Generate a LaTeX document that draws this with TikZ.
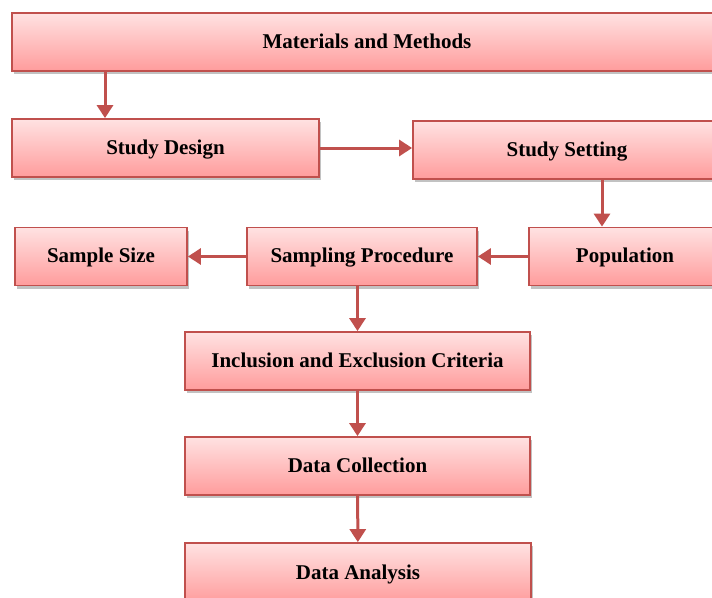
\documentclass[tikz,border=0pt]{standalone}
\usepackage{fontspec}
\setmainfont{Liberation Serif}
\usetikzlibrary{arrows.meta,shadows}
\definecolor{boxline}{HTML}{C0504D}
\definecolor{boxtop}{HTML}{FFE2E2}
\definecolor{boxbot}{HTML}{FF9C9C}

\begin{document}
\begin{tikzpicture}[x=1pt,y=-1pt,
  stage/.style={draw=boxline, line width=1.8pt, top color=boxtop, bottom color=boxbot,
    minimum height=58pt, inner sep=0pt, text height=12pt, text depth=0pt,
    font=\bfseries\fontsize{21}{24}\selectfont,
    drop shadow={shadow xshift=2pt, shadow yshift=-3pt, opacity=0.4, fill=black!60}},
  flow/.style={draw=boxline, line width=3pt, -{Triangle[length=13pt,width=16pt]}}]
\clip (0,0) rectangle (712,597);
\node[stage, minimum width=710pt] (mm) at (367,42) {Materials and Methods};
\node[stage, minimum width=307pt] (sd) at (165.5,148) {Study Design};
\node[stage, minimum width=308pt] (ss) at (567,150) {Study Setting};
\node[stage, minimum width=192pt] (pop) at (625,256.5) {Population};
\node[stage, minimum width=230pt] (sp) at (362,256.5) {Sampling Procedure};
\node[stage, minimum width=172pt] (sz) at (101,256.5) {Sample Size};
\node[stage, minimum width=345pt] (ie) at (357.5,361) {Inclusion and Exclusion Criteria};
\node[stage, minimum width=345pt] (dc) at (357.5,466) {Data Collection};
\node[stage, minimum width=346pt, minimum height=60pt] (da) at (358,573) {Data Analysis};
\draw [flow] (mm.south -| 105,0) -- (sd.north -| 105,0);
\draw [flow] (sd.east) -- (sd.east -| ss.west);
\draw [flow] (ss.south -| 602,0) -- (pop.north -| 602,0);
\draw [flow] (pop) -- (sp);
\draw [flow] (sp) -- (sz);
\draw [flow] (sp.south -| ie.north) -- (ie.north);
\draw [flow] (ie) -- (dc);
\draw [flow] (dc) -- (da);
\end{tikzpicture}
\end{document}
